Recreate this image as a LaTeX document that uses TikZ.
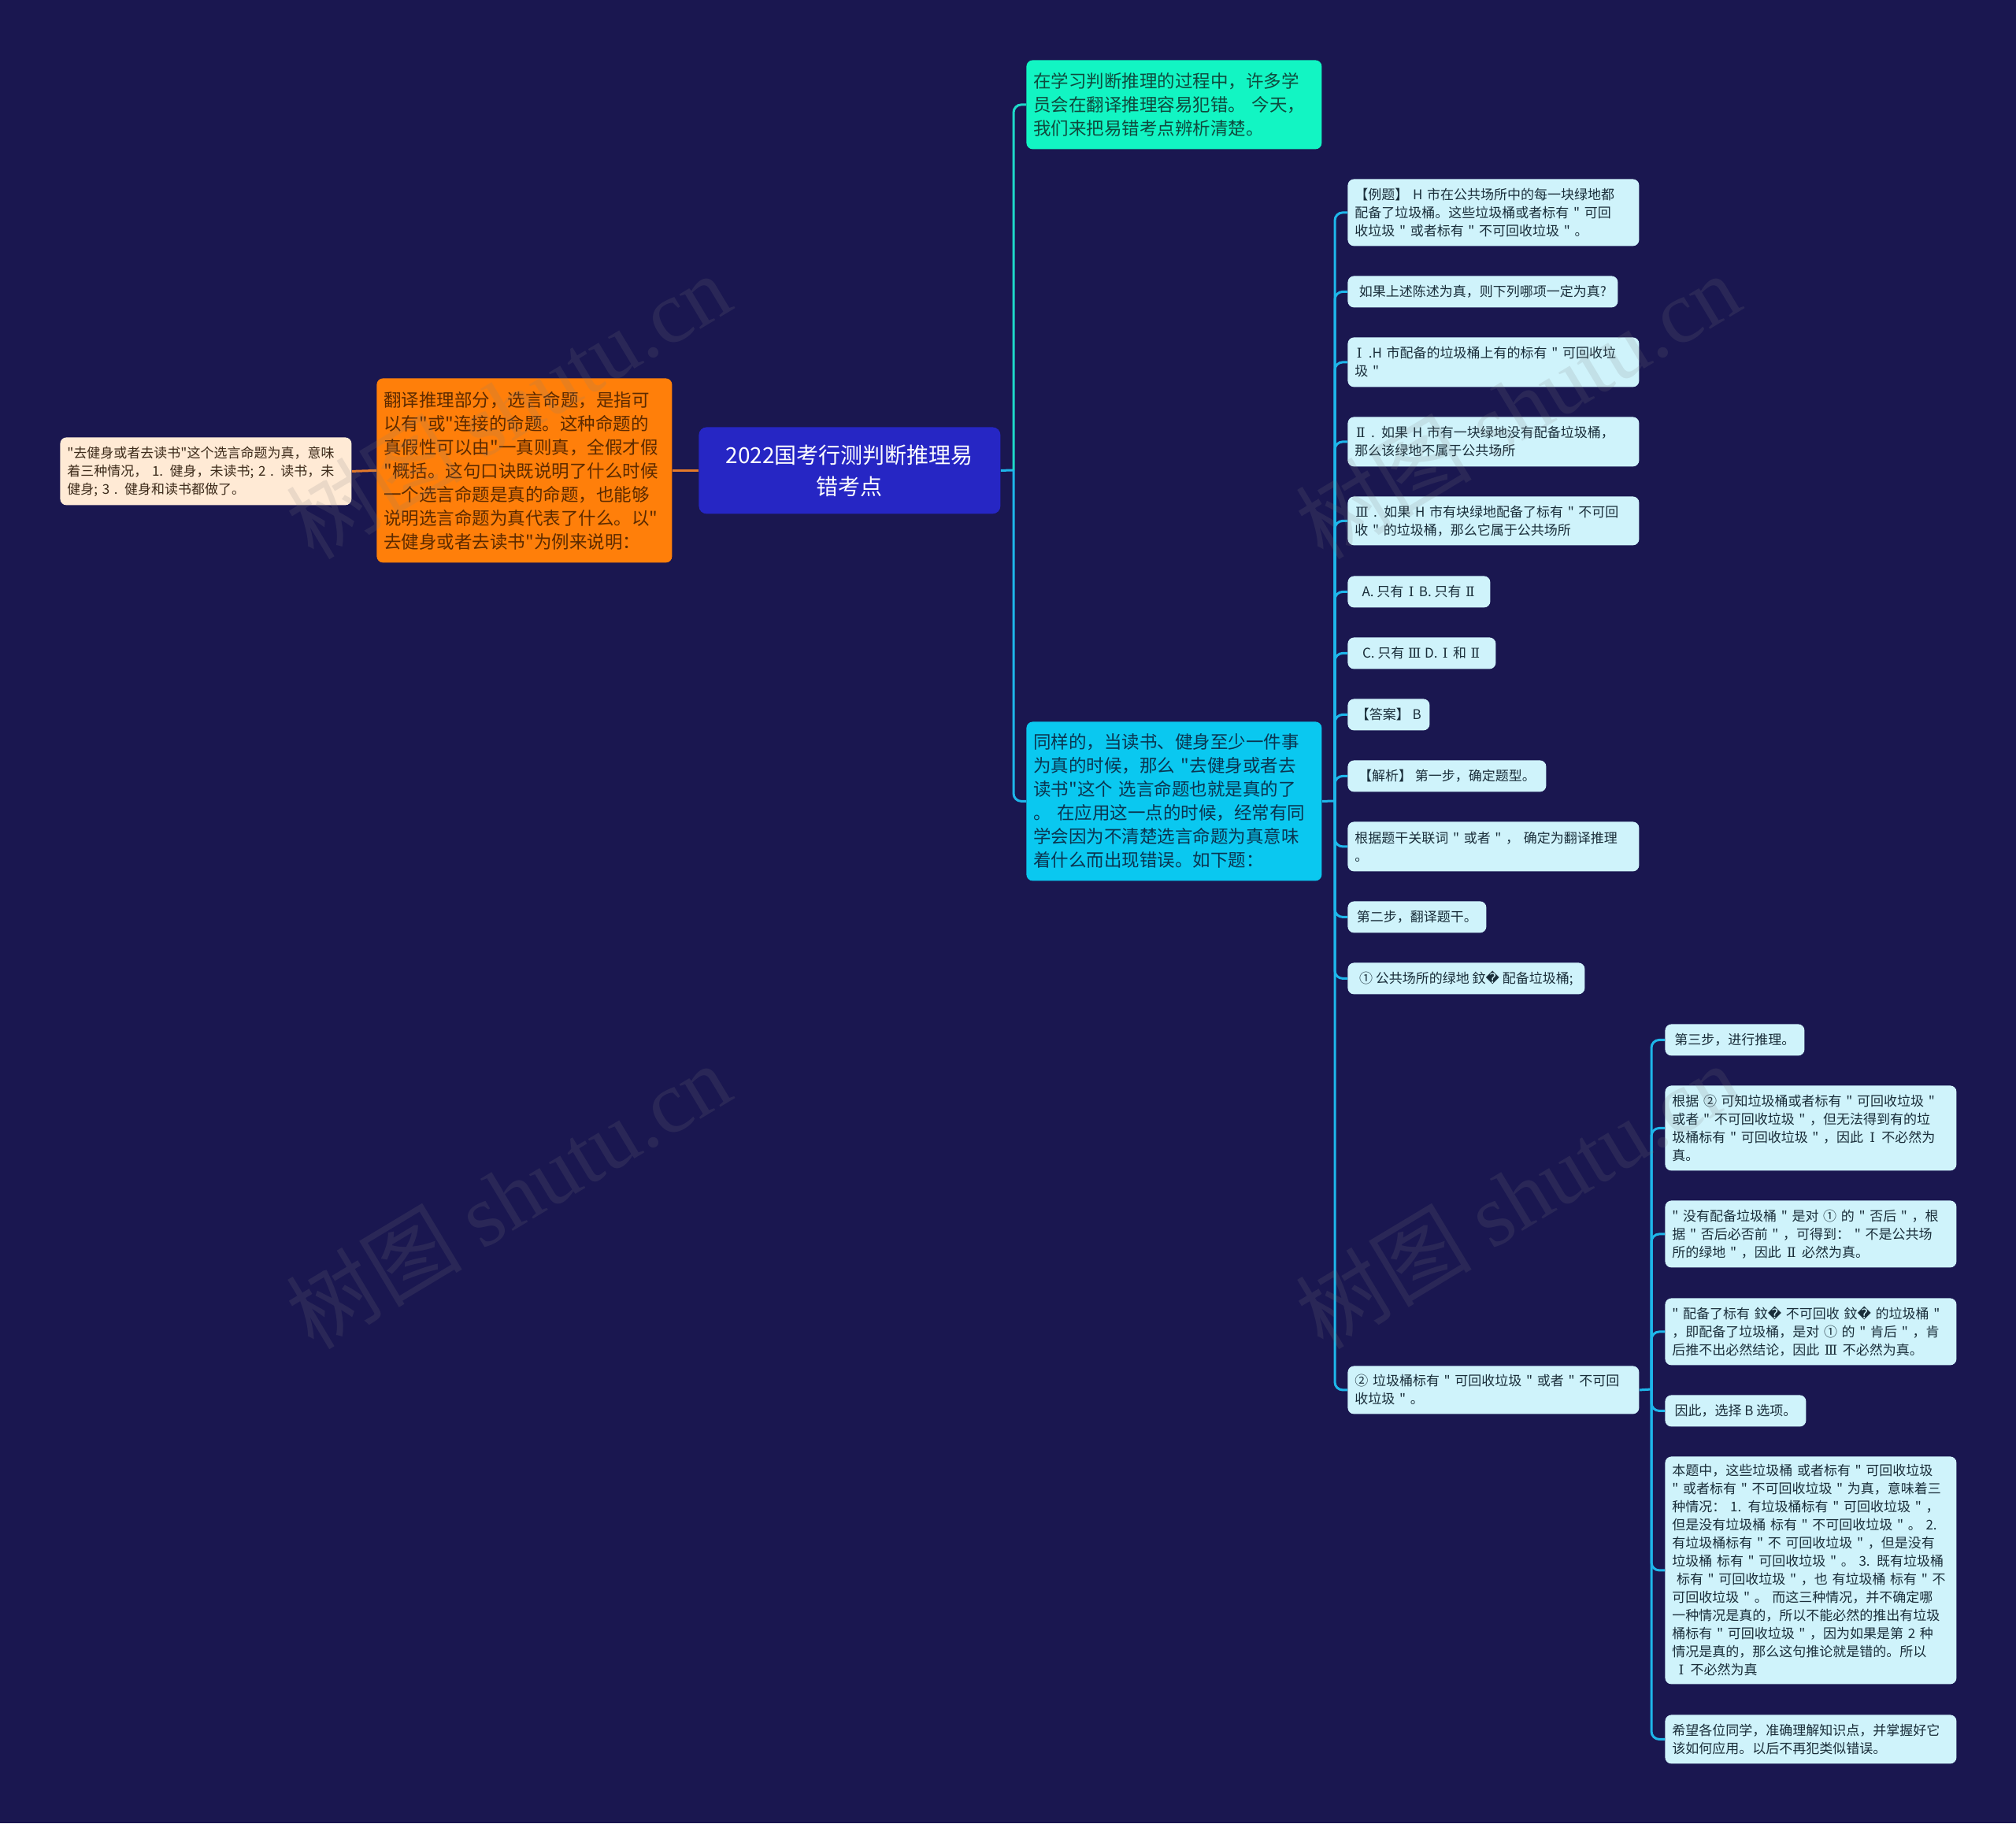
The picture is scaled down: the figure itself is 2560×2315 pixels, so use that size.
\documentclass[tikz,border=0pt]{standalone}
\usepackage{fontspec}
\newfontfamily\cjk{Noto Sans CJK SC}
\newfontfamily\dejavu{DejaVu Sans}
\newfontfamily\dvserif{DejaVu Serif}
\newfontfamily\wmserif{Liberation Serif}
\newcommand{\rep}{{\dejavu �}}
\newcommand{\rI}{\hspace{0.15em}{\dvserif Ⅰ}\hspace{0.15em}}
\newcommand{\rII}{\hspace{0.1em}{\dvserif Ⅱ}\hspace{0.1em}}
\newcommand{\rIII}{\hspace{0.05em}{\dvserif Ⅲ}\hspace{0.05em}}
\definecolor{bgc}{HTML}{1A1750}
\definecolor{rootc}{HTML}{2626C4}
\definecolor{orangec}{HTML}{FF7F0A}
\definecolor{orangetext}{HTML}{5C2A00}
\definecolor{creamc}{HTML}{FFEAD5}
\definecolor{creamtext}{HTML}{3D2B1A}
\definecolor{greenc}{HTML}{12F5C3}
\definecolor{greentext}{HTML}{0F4A3D}
\definecolor{cyanc}{HTML}{0AC8F0}
\definecolor{cyantext}{HTML}{0A3550}
\definecolor{leafc}{HTML}{CFF3FB}
\definecolor{leaftext}{HTML}{1A2E3A}
\definecolor{lineteal}{HTML}{1ED8C8}
\definecolor{lineblue}{HTML}{1EB6EA}
\definecolor{lineorange}{HTML}{E57A2A}
\begin{document}
\begin{tikzpicture}[x=0.5pt,y=-0.5pt,
  box/.style={rounded corners=4pt, inner xsep=4.5pt, inner ysep=2pt, anchor=north west, align=left},
  leaf/.style={box, fill=leafc, text=leaftext, font=\cjk\fontsize{8.5pt}{11.5pt}\selectfont},
  midbox/.style={box, font=\cjk\fontsize{11.25pt}{15pt}\selectfont, text width=178.5pt},
  conn/.style={line width=1.5pt, rounded corners=5pt},
  wm/.style={rotate=31, text=gray, opacity=0.16, font=\cjk\fontsize{56pt}{60pt}\selectfont}
]
\fill[bgc] (0,0) rectangle (2560,2315);
\useasboundingbox (0,0) rectangle (2560,2315);

% root
\node[box, align=center, fill=rootc, text=white, rounded corners=5pt,
      minimum width=191.5pt, minimum height=55pt,
      font=\cjk\fontsize{14pt}{20pt}\selectfont] (root) at (887,542)
  {2022国考行测判断推理易\\错考点};

% left side
\node[midbox, fill=orangec, text=orangetext, minimum height=117pt] (orange) at (478,480)
  {翻译推理部分，选言命题，是指可\\以有"或"连接的命题。这种命题的\\真假性可以由"一真则真，全假才假\\"概括。这句口诀既说明了什么时候\\一个选言命题是真的命题，也能够\\说明选言命题为真代表了什么。以"\\去健身或者去读书"为例来说明：};
\node[leaf, fill=creamc, text=creamtext, text width=176pt, minimum height=43pt] (cream) at (76,555)
  {"去健身或者去读书"这个选言命题为真，意味\\着三种情况， 1. 健身，未读书; 2 . 读书，未\\健身; 3 . 健身和读书都做了。};

% level 2 right
\node[midbox, fill=greenc, text=greentext, minimum height=56.5pt] (green) at (1303,76)
  {在学习判断推理的过程中，许多学\\员会在翻译推理容易犯错。 今天，\\我们来把易错考点辨析清楚。};
\node[midbox, fill=cyanc, text=cyantext, minimum height=101pt] (cyan) at (1303,916)
  {同样的，当读书、健身至少一件事\\为真的时候，那么 "去健身或者去\\读书"这个 选言命题也就是真的了\\。 在应用这一点的时候，经常有同\\学会因为不清楚选言命题为真意味\\着什么而出现错误。如下题：};

% level 3
\node[leaf, text width=176pt, minimum height=42.5pt] (l1) at (1711,227)
  {【例题】 H 市在公共场所中的每一块绿地都\\配备了垃圾桶。这些垃圾桶或者标有 " 可回\\收垃圾 " 或者标有 " 不可回收垃圾 " 。};
\node[leaf, minimum width=171.5pt, minimum height=20pt] (l2) at (1711,350)
  {如果上述陈述为真，则下列哪项一定为真?};
\node[leaf, text width=176pt, minimum height=31.5pt] (l3) at (1711,428)
  {\rI{} .H 市配备的垃圾桶上有的标有 " 可回收垃\\圾 "};
\node[leaf, text width=176pt, minimum height=31.5pt] (l4) at (1711,529)
  {\rII{} . 如果 H 市有一块绿地没有配备垃圾桶，\\那么该绿地不属于公共场所};
\node[leaf, text width=176pt, minimum height=31pt] (l5) at (1711,630)
  {\rIII{} . 如果 H 市有块绿地配备了标有 " 不可回\\收 " 的垃圾桶，那么它属于公共场所};
\node[leaf, minimum width=90.5pt, minimum height=20pt] (l6) at (1711,731)
  {A. 只有 \rI{} B. 只有 \rII};
\node[leaf, minimum width=94pt, minimum height=20pt] (l7) at (1711,809)
  {C. 只有 \rIII{} D. \rI{} 和 \rII};
\node[leaf, minimum width=52pt, minimum height=20pt] (l8) at (1711,887)
  {【答案】 B};
\node[leaf, minimum width=126pt, minimum height=20pt] (l9) at (1711,965)
  {【解析】 第一步，确定题型。};
\node[leaf, text width=176pt, minimum height=31.5pt] (l10) at (1711,1043)
  {根据题干关联词 " 或者 " ， 确定为翻译推理\\。};
\node[leaf, minimum width=88pt, minimum height=20pt] (l11) at (1711,1144)
  {第二步，翻译题干。};
\node[leaf, minimum width=150.5pt, minimum height=20pt] (l12) at (1711,1222)
  {① 公共场所的绿地 鈫\rep{} 配备垃圾桶;};
\node[leaf, text width=176pt, minimum height=30.5pt] (l13) at (1711,1734)
  {② 垃圾桶标有 " 可回收垃圾 " 或者 " 不可回\\收垃圾 " 。};

% level 4
\node[leaf, minimum width=88.5pt, minimum height=20pt] (m1) at (2114,1300)
  {第三步，进行推理。};
\node[leaf, text width=176pt, minimum height=54pt] (m2) at (2114,1378)
  {根据 ② 可知垃圾桶或者标有 " 可回收垃圾 "\\或者 " 不可回收垃圾 " ，但无法得到有的垃\\圾桶标有 " 可回收垃圾 " ，因此 \rI{} 不必然为\\真。};
\node[leaf, text width=176pt, minimum height=42.5pt] (m3) at (2114,1524)
  {" 没有配备垃圾桶 " 是对 ① 的 " 否后 " ，根\\据 " 否后必否前 " ，可得到： " 不是公共场\\所的绿地 " ，因此 \rII{} 必然为真。};
\node[leaf, text width=176pt, minimum height=42.5pt] (m4) at (2114,1648)
  {" 配备了标有 鈫\rep{} 不可回收 鈫\rep{} 的垃圾桶 "\\，即配备了垃圾桶，是对 ① 的 " 肯后 " ，肯\\后推不出必然结论，因此 \rIII{} 不必然为真。};
\node[leaf, minimum width=89.5pt, minimum height=20pt] (m5) at (2114,1771)
  {因此，选择 B 选项。};
\node[leaf, text width=176pt, minimum height=144.5pt] (m6) at (2114,1849)
  {本题中，这些垃圾桶 或者标有 " 可回收垃圾\\" 或者标有 " 不可回收垃圾 " 为真，意味着三\\种情况： 1. 有垃圾桶标有 " 可回收垃圾 " ，\\但是没有垃圾桶 标有 " 不可回收垃圾 " 。 2.\\有垃圾桶标有 " 不 可回收垃圾 " ，但是没有\\垃圾桶 标有 " 可回收垃圾 " 。 3. 既有垃圾桶\\\ 标有 " 可回收垃圾 " ，也 有垃圾桶 标有 " 不\\可回收垃圾 " 。 而这三种情况，并不确定哪\\一种情况是真的，所以不能必然的推出有垃圾\\桶标有 " 可回收垃圾 " ，因为如果是第 2 种\\情况是真的，那么这句推论就是错的。所以\\\ \rI{} 不必然为真};
\node[leaf, text width=176pt, minimum height=31pt] (m7) at (2114,2177)
  {希望各位同学，准确理解知识点，并掌握好它\\该如何应用。以后不再犯类似错误。};

% junctions
\coordinate (j1) at (1287,597);
\coordinate (j2) at (1695,1017);
\coordinate (j3) at (2097,1764);

% connectors
\draw[conn, lineorange] (root.west) -- (orange.east);
\draw[conn, lineorange] (orange.west) -- (cream.east);
\draw[conn, lineblue] (root.east) -- (j1);
\draw[conn, lineteal] (j1) |- (green.west);
\draw[conn, lineblue] (j1) |- (cyan.west);
\draw[conn, lineblue] (cyan.east) -- (j2);
\foreach \n in {l1,l2,l3,l4,l5,l6,l7,l8,l9,l10,l11,l12,l13}
  \draw[conn, lineblue] (j2) |- (\n.west);
\draw[conn, lineblue] (l13.east) -- (j3);
\foreach \n in {m1,m2,m3,m4,m5,m6,m7}
  \draw[conn, lineblue] (j3) |- (\n.west);

% watermarks
\node[wm] (w1) at (645,515) {树图 {\wmserif shutu.cn}};
\node[wm] (w2) at (1927,515) {树图 {\wmserif shutu.cn}};
\node[wm] (w3) at (645,1518) {树图 {\wmserif shutu.cn}};
\node[wm] (w4) at (1927,1518) {树图 {\wmserif shutu.cn}};
\end{tikzpicture}
\end{document}
